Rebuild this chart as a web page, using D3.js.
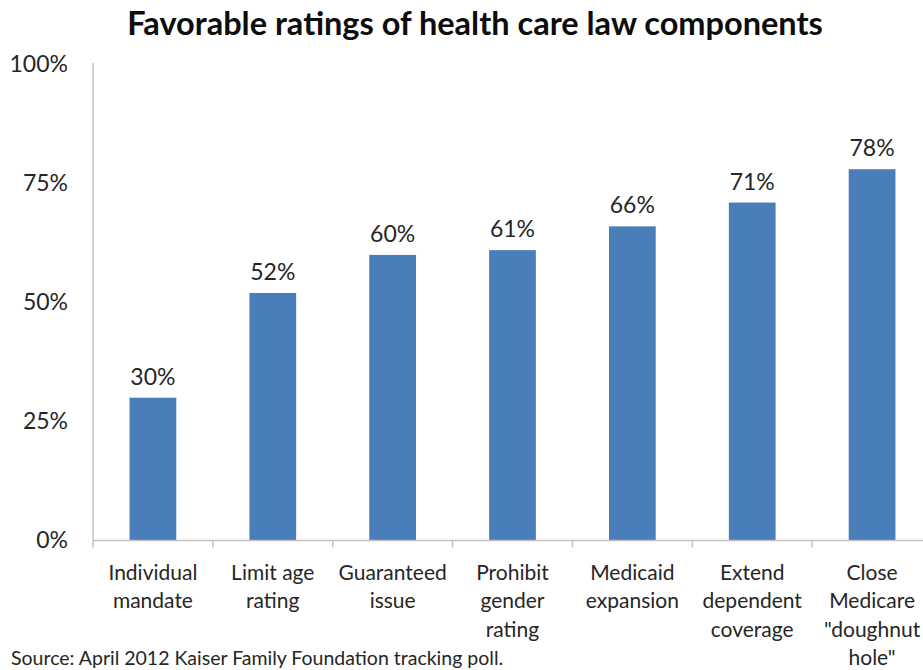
<!DOCTYPE html>
<html>
<head>
<meta charset="utf-8">
<script src="https://cdn.jsdelivr.net/npm/d3@7"></script>
<style>
  html, body { margin: 0; padding: 0; background: #ffffff; }
  svg { display: block; }
  text { font-family: Lato, "Open Sans", sans-serif; fill: #262626; }
</style>
</head>
<body>
<svg id="chart" width="923" height="670"></svg>
<script>
// Favorable ratings of health care law components (share of respondents)
const categories = [
  ["Individual", "mandate"],
  ["Limit age", "rating"],
  ["Guaranteed", "issue"],
  ["Prohibit", "gender", "rating"],
  ["Medicaid", "expansion"],
  ["Extend", "dependent", "coverage"],
  ["Close", "Medicare", "\"doughnut", "hole\""]
];
const values = [0.30, 0.52, 0.60, 0.61, 0.66, 0.71, 0.78];
const yTicks = [0, 0.25, 0.5, 0.75, 1];
const titleText = "Favorable ratings of health care law components";
const sourceText = "Source: April 2012 Kaiser Family Foundation tracking poll.";

const svg = d3.select("#chart");
const keys = categories.map(c => c.join(" "));

const plotLeft = 93, plotRight = 932, plotBase = 540.5, plotTop = 64.5;

const x = d3.scaleBand()
  .domain(keys)
  .range([plotLeft, plotRight])
  .paddingInner(0.61)
  .paddingOuter(0.305);

const y = d3.scaleLinear().domain([0, 1]).range([plotBase, plotTop]);

const axisColor = "#c9bfbf";
const barColor = "#4a7ebb";

// Title
svg.append("text")
  .attr("x", 475)
  .attr("y", 35)
  .attr("text-anchor", "middle")
  .style("font-size", "32.5px")
  .style("font-weight", "bold")
  .style("fill", "#0d0d0d")
  .text(titleText);

// Y axis: labels only, plus a plain vertical rule
const yAxis = d3.axisLeft(y)
  .tickValues(yTicks)
  .tickFormat(d3.format(".0%"))
  .tickSize(0)
  .tickPadding(25);

const gy = svg.append("g")
  .attr("transform", `translate(${plotLeft},0)`)
  .call(yAxis);
gy.select(".domain").remove();
gy.selectAll("text")
  .style("font-family", "Lato, 'Open Sans', sans-serif")
  .style("font-size", "23px")
  .style("fill", "#262626");

svg.append("line")
  .attr("x1", plotLeft).attr("x2", plotLeft)
  .attr("y1", y(1) - 1.5).attr("y2", plotBase)
  .attr("stroke", axisColor).attr("stroke-width", 1.5);

// Bars
svg.append("g").selectAll("rect")
  .data(values)
  .join("rect")
  .attr("x", (d, i) => x(keys[i]))
  .attr("width", x.bandwidth())
  .attr("y", d => y(d))
  .attr("height", d => plotBase - y(d))
  .attr("fill", barColor);

// Value labels
svg.append("g").selectAll("text")
  .data(values)
  .join("text")
  .attr("x", (d, i) => x(keys[i]) + x.bandwidth() / 2)
  .attr("y", d => y(d) - 13)
  .attr("text-anchor", "middle")
  .style("font-size", "23px")
  .text(d => d3.format(".0%")(d));

// X axis baseline with tick marks at category boundaries
svg.append("line")
  .attr("x1", plotLeft).attr("x2", plotRight)
  .attr("y1", plotBase).attr("y2", plotBase)
  .attr("stroke", axisColor).attr("stroke-width", 1.5);

const step = x.step();
const boundaries = keys.map((k, i) => plotLeft + i * step);
svg.append("g").selectAll("line")
  .data(boundaries)
  .join("line")
  .attr("x1", d => d).attr("x2", d => d)
  .attr("y1", plotBase).attr("y2", plotBase + 7)
  .attr("stroke", axisColor).attr("stroke-width", 1.5);

// Category labels, one tspan per line
const catG = svg.append("g").selectAll("text")
  .data(categories)
  .join("text")
  .attr("text-anchor", "middle")
  .attr("x", (d, i) => x(keys[i]) + x.bandwidth() / 2)
  .attr("y", 580)
  .style("font-size", "21px");

catG.selectAll("tspan")
  .data(d => d)
  .join("tspan")
  .attr("x", function () { return d3.select(this.parentNode).attr("x"); })
  .attr("dy", (d, i) => i === 0 ? 0 : 28.3)
  .text(d => d);

// Source note
svg.append("text")
  .attr("x", 11)
  .attr("y", 665)
  .style("font-size", "19.5px")
  .text(sourceText);
</script>
</body>
</html>
